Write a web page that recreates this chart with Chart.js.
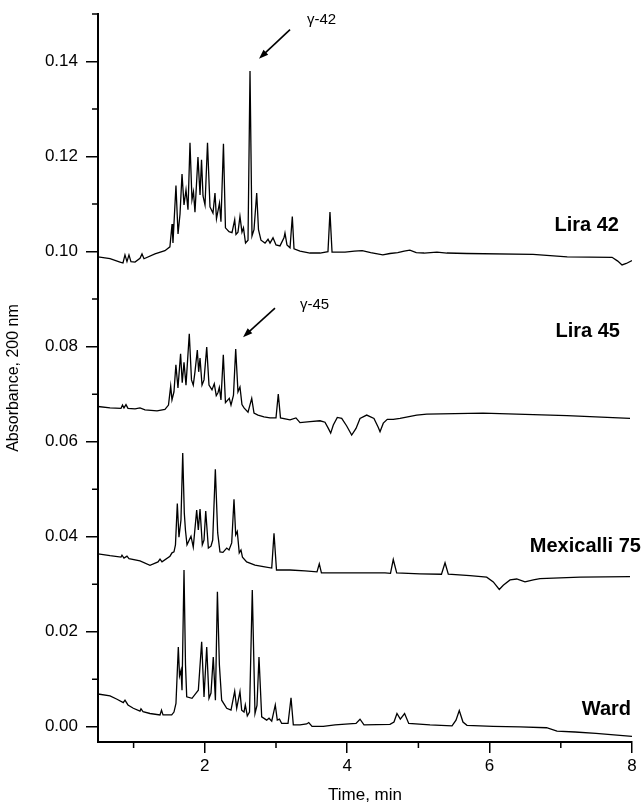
<!DOCTYPE html>
<html>
<head>
<meta charset="utf-8">
<script src="https://cdn.jsdelivr.net/npm/chart.js@4.4.1/dist/chart.umd.min.js"></script>
<style>
  html, body { margin: 0; padding: 0; background: #fff; }
  canvas { display: block; }
</style>
</head>
<body>
<canvas id="chrom" width="644" height="806"></canvas>
<script>
// chromatograms: [time (min), absorbance]
const lira42 = [
  [0.5, 0.0989], [0.669, 0.0985], [0.809, 0.0978], [0.851, 0.0976], [0.879, 0.0993], [0.907, 0.0979],
  [0.935, 0.0993], [0.963, 0.0979], [1.02, 0.0978], [1.09, 0.0986], [1.118, 0.0995], [1.146, 0.0985],
  [1.30, 0.0995], [1.44, 0.1002], [1.51, 0.1010], [1.54, 0.1058], [1.553, 0.1018], [1.595, 0.1139],
  [1.624, 0.1037], [1.652, 0.1079], [1.68, 0.1163], [1.708, 0.1098], [1.736, 0.1130], [1.764, 0.1088],
  [1.792, 0.1229], [1.82, 0.1109], [1.841, 0.1126], [1.862, 0.1083], [1.904, 0.1199], [1.933, 0.1119],
  [1.954, 0.1193], [1.975, 0.1117], [2.003, 0.1098], [2.038, 0.1229], [2.073, 0.1094], [2.115, 0.1081],
  [2.143, 0.1123], [2.164, 0.1069], [2.206, 0.1102], [2.227, 0.1063], [2.262, 0.1227], [2.290, 0.1050],
  [2.34, 0.1042], [2.382, 0.1040], [2.42, 0.1067], [2.438, 0.1036], [2.466, 0.1041], [2.494, 0.1074],
  [2.522, 0.1041], [2.543, 0.1050], [2.572, 0.1018], [2.607, 0.1024], [2.635, 0.1380], [2.663, 0.1033],
  [2.691, 0.1046], [2.729, 0.1123], [2.754, 0.1046], [2.789, 0.1024], [2.846, 0.1018], [2.888, 0.1026],
  [2.916, 0.1018], [2.958, 0.1029], [3.0, 0.1014], [3.056, 0.1012], [3.112, 0.1029], [3.126, 0.1039],
  [3.154, 0.1014], [3.197, 0.1008], [3.229, 0.1074], [3.253, 0.1006], [3.337, 0.1001], [3.478, 0.0997],
  [3.618, 0.0997], [3.73, 0.1000], [3.758, 0.1083], [3.787, 0.0999], [3.97, 0.0999], [4.10, 0.1001],
  [4.21, 0.1002], [4.33, 0.0998], [4.50, 0.0993], [4.60, 0.0996], [4.71, 0.0998], [4.80, 0.1001],
  [4.88, 0.1003], [4.97, 0.0998], [5.08, 0.0997], [5.26, 0.0999], [5.40, 0.0997], [5.68, 0.0996],
  [6.61, 0.0994], [7.09, 0.0989], [7.72, 0.0988], [7.80, 0.0980], [7.86, 0.0972], [7.92, 0.0975],
  [8.0, 0.0981]
];

const lira45 = [
  [0.5, 0.0674], [0.669, 0.0671], [0.823, 0.0670], [0.844, 0.0677], [0.865, 0.0671], [0.893, 0.0678],
  [0.921, 0.0670], [1.02, 0.0669], [1.09, 0.0671], [1.16, 0.0667], [1.329, 0.0665], [1.44, 0.0668],
  [1.49, 0.0677], [1.521, 0.0717], [1.539, 0.0688], [1.567, 0.0705], [1.594, 0.0762], [1.623, 0.0713],
  [1.66, 0.0785], [1.683, 0.0724], [1.708, 0.0767], [1.736, 0.0719], [1.782, 0.0827], [1.813, 0.0730],
  [1.838, 0.0719], [1.862, 0.0747], [1.895, 0.0793], [1.914, 0.0747], [1.933, 0.0776], [1.961, 0.0719],
  [1.989, 0.0730], [2.027, 0.0799], [2.059, 0.0719], [2.101, 0.0709], [2.133, 0.0722], [2.161, 0.0697],
  [2.185, 0.0703], [2.204, 0.0714], [2.227, 0.0688], [2.26, 0.0783], [2.29, 0.0682], [2.344, 0.0691],
  [2.368, 0.0677], [2.403, 0.0698], [2.434, 0.0795], [2.466, 0.0705], [2.494, 0.0715], [2.522, 0.0678],
  [2.551, 0.0671], [2.607, 0.0662], [2.659, 0.0691], [2.691, 0.0660], [2.747, 0.0656], [2.831, 0.0652],
  [2.916, 0.0650], [3.0, 0.0650], [3.032, 0.0700], [3.063, 0.0650], [3.197, 0.0646], [3.28, 0.0650],
  [3.337, 0.0640], [3.478, 0.0642], [3.618, 0.0644], [3.688, 0.0641], [3.735, 0.0628], [3.768, 0.0618],
  [3.805, 0.0635], [3.861, 0.0651], [3.923, 0.0649], [3.993, 0.0633], [4.063, 0.0614], [4.124, 0.0628],
  [4.18, 0.0649], [4.274, 0.0656], [4.376, 0.0649], [4.437, 0.0630], [4.461, 0.0621], [4.507, 0.0639],
  [4.563, 0.0647], [4.647, 0.0647], [4.742, 0.0649], [4.976, 0.0656], [5.117, 0.0658], [5.907, 0.0660],
  [7.087, 0.0655], [7.972, 0.0649]
];

const mexicalli75 = [
  [0.5, 0.0364], [0.669, 0.0360], [0.823, 0.0357], [0.837, 0.0361], [0.865, 0.0355], [0.907, 0.0359],
  [0.935, 0.0354], [1.09, 0.0349], [1.23, 0.0340], [1.343, 0.0347], [1.371, 0.0353], [1.399, 0.0347],
  [1.511, 0.0359], [1.539, 0.0366], [1.567, 0.0368], [1.588, 0.0383], [1.614, 0.0470], [1.637, 0.0399],
  [1.665, 0.0435], [1.69, 0.0576], [1.712, 0.0450], [1.728, 0.0414], [1.75, 0.0383], [1.806, 0.0401],
  [1.838, 0.0378], [1.886, 0.0456], [1.909, 0.0414], [1.933, 0.0458], [1.965, 0.0383], [1.989, 0.0393],
  [2.013, 0.0454], [2.05, 0.0376], [2.087, 0.0380], [2.111, 0.0393], [2.148, 0.0542], [2.181, 0.0408],
  [2.213, 0.0368], [2.255, 0.0367], [2.308, 0.0376], [2.34, 0.0372], [2.378, 0.0387], [2.41, 0.0479],
  [2.434, 0.0404], [2.456, 0.0411], [2.484, 0.0366], [2.508, 0.0372], [2.529, 0.0357], [2.588, 0.0347],
  [2.705, 0.0340], [2.822, 0.0337], [2.94, 0.0334], [2.972, 0.0407], [3.007, 0.0330], [3.197, 0.0330],
  [3.407, 0.0328], [3.576, 0.0326], [3.608, 0.0343], [3.638, 0.0324], [3.828, 0.0324], [4.18, 0.0324],
  [4.531, 0.0324], [4.608, 0.0323], [4.647, 0.0352], [4.695, 0.0324], [5.022, 0.0322], [5.324, 0.0321],
  [5.374, 0.0345], [5.42, 0.0321], [5.725, 0.0318], [5.959, 0.0315], [6.052, 0.0305], [6.136, 0.0289],
  [6.192, 0.0298], [6.287, 0.0309], [6.381, 0.0311], [6.497, 0.0305], [6.614, 0.0309], [6.708, 0.0312],
  [7.27, 0.0315], [7.972, 0.0316]
];

const ward = [
  [0.5, 0.0069], [0.669, 0.0065], [0.767, 0.0058], [0.855, 0.0051], [0.879, 0.0056], [0.921, 0.0046],
  [0.996, 0.0039], [1.09, 0.0033], [1.104, 0.0038], [1.132, 0.0032], [1.23, 0.0028], [1.371, 0.0025],
  [1.392, 0.0035], [1.413, 0.0025], [1.535, 0.0025], [1.567, 0.0031], [1.595, 0.0049], [1.628, 0.0168],
  [1.645, 0.0107], [1.666, 0.0119], [1.68, 0.0077], [1.708, 0.0330], [1.729, 0.0130], [1.746, 0.0063],
  [1.82, 0.0060], [1.877, 0.0071], [1.909, 0.0077], [1.956, 0.0179], [1.989, 0.0063], [2.027, 0.0168],
  [2.059, 0.0060], [2.087, 0.0071], [2.119, 0.0147], [2.149, 0.0056], [2.177, 0.0284], [2.205, 0.0130],
  [2.237, 0.0056], [2.308, 0.0039], [2.368, 0.0035], [2.42, 0.0075], [2.448, 0.0039], [2.494, 0.0074],
  [2.518, 0.0035], [2.551, 0.0031], [2.569, 0.0046], [2.597, 0.0023], [2.628, 0.0031], [2.667, 0.0288],
  [2.705, 0.0028], [2.733, 0.0045], [2.761, 0.0147], [2.799, 0.0021], [2.869, 0.0014], [2.902, 0.0018],
  [2.94, 0.0012], [2.99, 0.0046], [3.018, 0.0014], [3.049, 0.0016], [3.08, 0.0007], [3.169, 0.0007],
  [3.211, 0.0061], [3.243, 0.0004], [3.337, 0.0004], [3.431, 0.0006], [3.46, 0.0009], [3.506, 0.0001],
  [3.664, 0.0001], [3.829, 0.0004], [4.025, 0.0006], [4.124, 0.0007], [4.18, 0.0016], [4.236, 0.0004],
  [4.601, 0.0005], [4.657, 0.0010], [4.699, 0.0028], [4.746, 0.0016], [4.806, 0.0028], [4.864, 0.0007],
  [5.163, 0.0004], [5.472, 0.0002], [5.528, 0.0014], [5.574, 0.0034], [5.626, 0.0010], [5.682, 0.0003],
  [6.048, 0.0001], [6.427, 0.0000], [6.80, -0.0002], [6.947, -0.0009], [7.2, -0.0011], [7.494, -0.0014],
  [8.0, -0.0020]
];

const timeTicks = [2, 4, 6, 8];
const timeMinor = [1, 3, 5, 7];
const absTicks = [0, 0.02, 0.04, 0.06, 0.08, 0.10, 0.12, 0.14];
const absMinor = [0.01, 0.03, 0.05, 0.07, 0.09, 0.11, 0.13, 0.15];

const sampleNames = ['Lira 42', 'Lira 45', 'Mexicalli 75', 'Ward'];

// where the names and the gamma callouts sit, in data units
const nameSpots = [[7.817, 0.1054], [7.83, 0.0831], [8.126, 0.0380], [7.986, 0.0037]];
const callouts = [
  {text: 'γ-42', at: [3.435, 0.1488], from: [3.197, 0.1467], to: [2.761, 0.1406]},
  {text: 'γ-45', at: [3.337, 0.0888], from: [2.986, 0.0881], to: [2.537, 0.0820]}
];

const FONT = "'Liberation Sans', Arial, sans-serif";

const extrasPlugin = {
  id: 'extras',
  afterDraw(chart) {
    const {ctx, chartArea, scales: {x, y}} = chart;
    ctx.save();
    ctx.strokeStyle = '#000';
    ctx.lineWidth = 1.5;
    // minor ticks
    ctx.beginPath();
    timeMinor.forEach(v => {
      const px = x.getPixelForValue(v);
      ctx.moveTo(px, chartArea.bottom);
      ctx.lineTo(px, chartArea.bottom + 6);
    });
    absMinor.forEach(v => {
      const py = y.getPixelForValue(v);
      ctx.moveTo(chartArea.left - 6, py);
      ctx.lineTo(chartArea.left, py);
    });
    ctx.stroke();

    // sample names
    ctx.fillStyle = '#000';
    ctx.font = 'bold 20px ' + FONT;
    ctx.textAlign = 'right';
    ctx.textBaseline = 'middle';
    sampleNames.forEach((name, i) => {
      ctx.fillText(name, x.getPixelForValue(nameSpots[i][0]), y.getPixelForValue(nameSpots[i][1]));
    });

    // gamma callouts with arrows
    ctx.font = '15px ' + FONT;
    ctx.textAlign = 'left';
    callouts.forEach(c => {
      ctx.fillText(c.text, x.getPixelForValue(c.at[0]), y.getPixelForValue(c.at[1]));
      const x1 = x.getPixelForValue(c.from[0]), y1 = y.getPixelForValue(c.from[1]);
      const x2 = x.getPixelForValue(c.to[0]), y2 = y.getPixelForValue(c.to[1]);
      const ang = Math.atan2(y2 - y1, x2 - x1);
      ctx.lineWidth = 1.6;
      ctx.beginPath();
      ctx.moveTo(x1, y1);
      ctx.lineTo(x2 - 6 * Math.cos(ang), y2 - 6 * Math.sin(ang));
      ctx.stroke();
      ctx.beginPath();
      ctx.moveTo(x2, y2);
      ctx.lineTo(x2 - 10 * Math.cos(ang - 0.35), y2 - 10 * Math.sin(ang - 0.35));
      ctx.lineTo(x2 - 10 * Math.cos(ang + 0.35), y2 - 10 * Math.sin(ang + 0.35));
      ctx.closePath();
      ctx.fill();
    });
    ctx.restore();
  }
};

const toPoints = arr => arr.map(([t, a]) => ({x: t, y: a}));
const trace = (label, arr) => ({
  label: label,
  data: toPoints(arr),
  borderColor: '#000',
  borderWidth: 1.3,
  pointRadius: 0,
  tension: 0,
  fill: false
});

new Chart(document.getElementById('chrom'), {
  type: 'line',
  data: {
    datasets: [
      trace(sampleNames[0], lira42),
      trace(sampleNames[1], lira45),
      trace(sampleNames[2], mexicalli75),
      trace(sampleNames[3], ward)
    ]
  },
  options: {
    responsive: false,
    animation: false,
    events: [],
    layout: {padding: {left: 0, right: 12, top: 14, bottom: 0}},
    plugins: {legend: {display: false}, tooltip: {enabled: false}},
    scales: {
      x: {
        type: 'linear',
        min: 0.5,
        max: 8,
        afterBuildTicks: s => { s.ticks = timeTicks.map(v => ({value: v})); },
        afterFit: s => { s.height = 64; s.paddingLeft = 0; s.paddingRight = 0; },
        grid: {drawOnChartArea: false, drawTicks: true, tickLength: 11, color: '#000', lineWidth: 1.5},
        border: {display: true, color: '#000', width: 2},
        ticks: {color: '#000', font: {family: FONT, size: 17}, padding: 3, maxRotation: 0,
                callback: v => String(v)},
        title: {display: true, text: 'Time, min', color: '#000', font: {family: FONT, size: 17},
                padding: {top: 0, bottom: 0}}
      },
      y: {
        min: -0.0032,
        max: 0.15,
        afterBuildTicks: s => { s.ticks = absTicks.map(v => ({value: v})); },
        afterFit: s => { s.width = 98; s.paddingTop = 0; s.paddingBottom = 0; },
        grid: {drawOnChartArea: false, drawTicks: true, tickLength: 12, color: '#000', lineWidth: 1.5},
        border: {display: true, color: '#000', width: 2},
        ticks: {color: '#000', font: {family: FONT, size: 17}, padding: 8,
                callback: v => v.toFixed(2)},
        title: {display: true, text: 'Absorbance, 200 nm', color: '#000', font: {family: FONT, size: 16},
                padding: {top: 4, bottom: 0}}
      }
    }
  },
  plugins: [extrasPlugin]
});
</script>
</body>
</html>
